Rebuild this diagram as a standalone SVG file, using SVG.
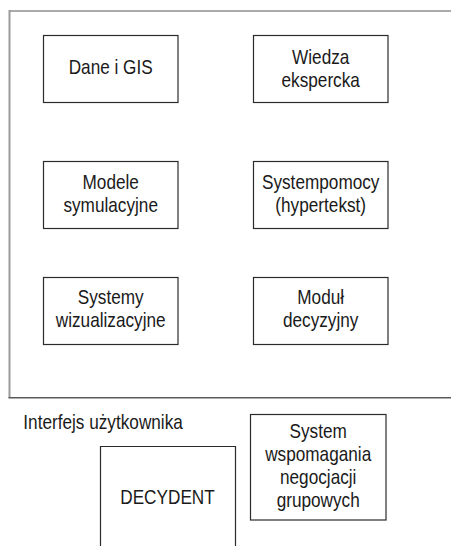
<svg xmlns="http://www.w3.org/2000/svg" width="451" height="546" viewBox="0 0 451 546">
<style>
.box{fill:#fff;stroke:#2b2b2b;stroke-width:1.2}
.t{font-family:"Liberation Sans",Arial,sans-serif;font-size:20px;fill:#1a1a1a;text-anchor:middle}
.tl{font-family:"Liberation Sans",Arial,sans-serif;font-size:20px;fill:#1a1a1a}
</style>
<rect width="451" height="546" fill="#fff"/>
<g id="frame">
<line x1="9.5" y1="11" x2="451" y2="11" stroke="#ababab" stroke-width="2"/>
<line x1="9.5" y1="10" x2="9.5" y2="398" stroke="#9a9a9a" stroke-width="2"/>
<line x1="8.5" y1="397.8" x2="451" y2="397.8" stroke="#5a5a5a" stroke-width="1.6"/>
</g>
<g id="connectors"></g>
<g id="dane">
<rect class="box" x="43.5" y="35.5" width="134.5" height="67"/>
<text class="t" transform="translate(110.7,0) scale(0.86,1)" x="0" y="74">Dane i GIS</text>
</g>
<g id="wiedza">
<rect class="box" x="253.5" y="35.5" width="134.5" height="67"/>
<text class="t" transform="translate(320.7,0) scale(0.86,1)" x="0" y="64">Wiedza</text>
<text class="t" transform="translate(320.7,0) scale(0.86,1)" x="0" y="87.5">ekspercka</text>
</g>
<g id="modele">
<rect class="box" x="43.5" y="161.5" width="134.5" height="67"/>
<text class="t" transform="translate(110.7,0) scale(0.86,1)" x="0" y="189">Modele</text>
<text class="t" transform="translate(110.7,0) scale(0.86,1)" x="0" y="212.5">symulacyjne</text>
</g>
<g id="systempomocy">
<rect class="box" x="253.5" y="161.5" width="134.5" height="67"/>
<text class="t" transform="translate(320.7,0) scale(0.86,1)" x="0" y="189">Systempomocy</text>
<text class="t" transform="translate(320.7,0) scale(0.86,1)" x="0" y="212.5">(hypertekst)</text>
</g>
<g id="systemy">
<rect class="box" x="43.5" y="277.5" width="134.5" height="67"/>
<text class="t" transform="translate(110.7,0) scale(0.86,1)" x="0" y="304">Systemy</text>
<text class="t" transform="translate(110.7,0) scale(0.86,1)" x="0" y="327.5">wizualizacyjne</text>
</g>
<g id="modul">
<rect class="box" x="253.5" y="277.5" width="134.5" height="67"/>
<text class="t" transform="translate(320.7,0) scale(0.86,1)" x="0" y="304">Moduł</text>
<text class="t" transform="translate(320.7,0) scale(0.86,1)" x="0" y="327.5">decyzyjny</text>
</g>
<g id="interfejs">
<text class="tl" transform="translate(23.3,0) scale(0.86,1)" x="0" y="429.3">Interfejs użytkownika</text>
</g>
<g id="decydent">
<path d="M100.5 548 V446.5 H235.5 V548" fill="#fff" stroke="#2b2b2b" stroke-width="1.2"/>
<text class="t" transform="translate(167.5,0) scale(0.86,1)" x="0" y="504.3">DECYDENT</text>
</g>
<g id="wspomagania">
<rect class="box" x="250.5" y="414.5" width="135.5" height="105.5"/>
<text class="t" transform="translate(318.2,0) scale(0.86,1)" x="0" y="438.5">System</text>
<text class="t" transform="translate(318.2,0) scale(0.86,1)" x="0" y="461.5">wspomagania</text>
<text class="t" transform="translate(318.2,0) scale(0.86,1)" x="0" y="484.2">negocjacji</text>
<text class="t" transform="translate(318.2,0) scale(0.86,1)" x="0" y="506.8">grupowych</text>
</g>
</svg>
